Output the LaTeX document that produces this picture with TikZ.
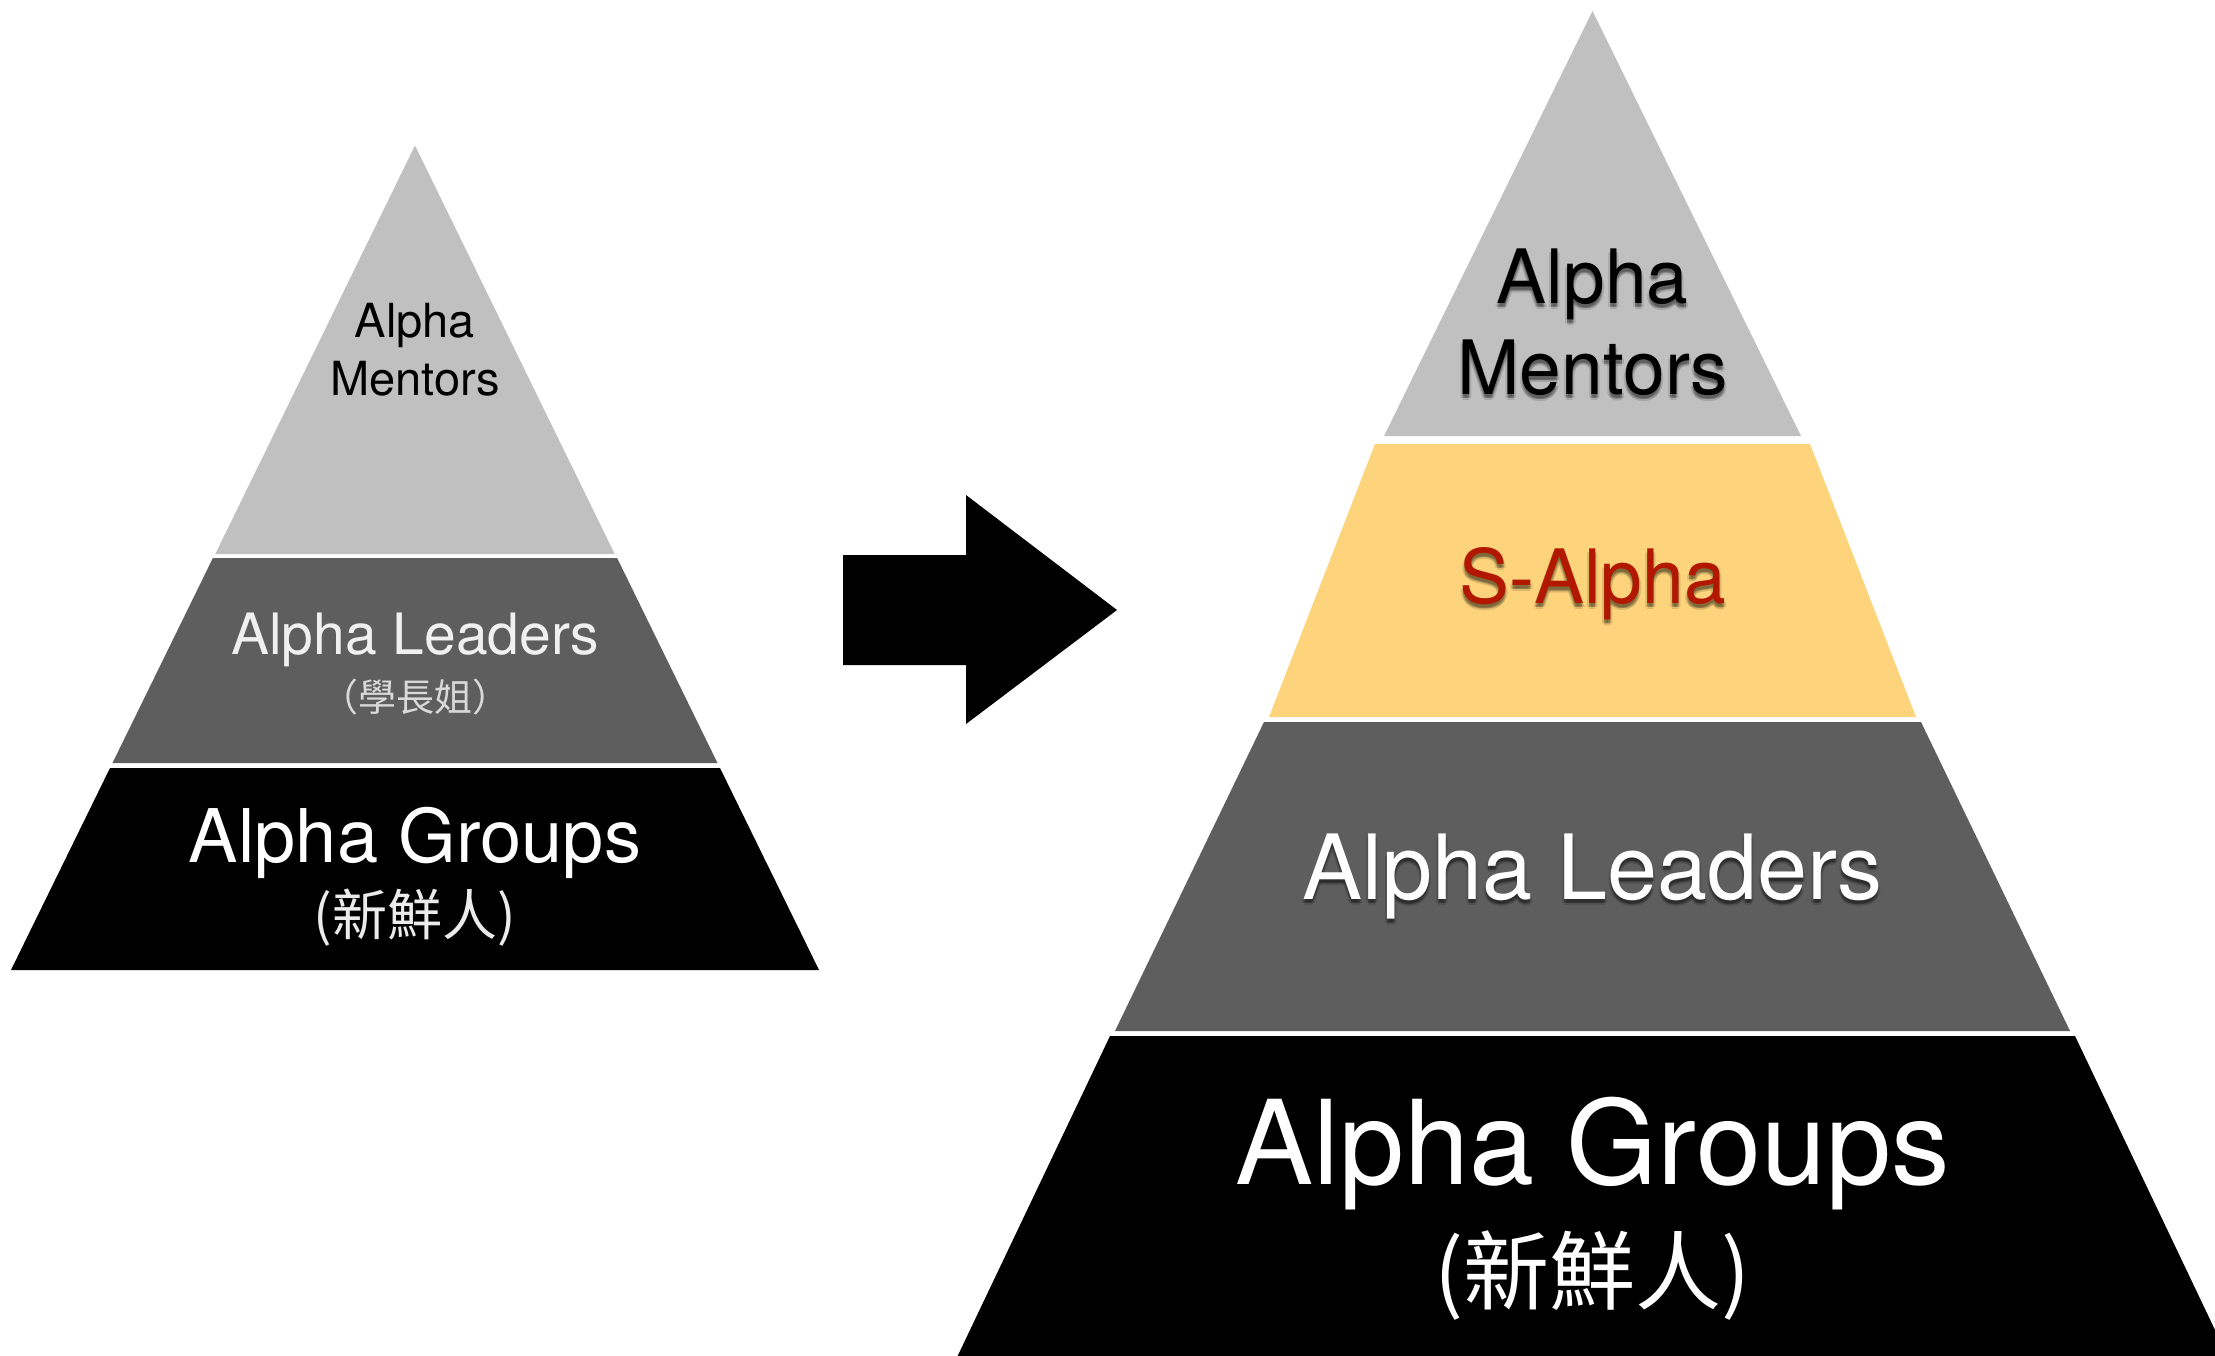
\documentclass[tikz,border=0pt]{standalone}
\usepackage{fontspec}
\setmainfont{TeX Gyre Heros}
\newfontfamily\cjk{Noto Sans CJK TC}
\definecolor{lgray}{HTML}{C0C0C0}
\definecolor{dgray}{HTML}{5E5E5E}
\definecolor{sand}{HTML}{FDD47B}
\definecolor{sred}{HTML}{B21800}
\tikzset{
  lbl/.style={anchor=base, inner sep=0pt, align=center},
}
\newcommand{\softshadow}[4]{% #1 name prefix, #2 position, #3 font, #4 text
  \foreach \dx/\dy [count=\k] in {0/-3,0/-6,-2/-4.5,2/-4.5,0/-4.5}{%
    \node[lbl, text=black, text opacity=0.13, font=#3, xshift=\dx pt, yshift=\dy pt] (#1\k) at (#2) {#4};}}
\begin{document}
\begin{tikzpicture}[x=1pt,y=-1pt]
\clip (0,0) rectangle (2215,1356);
\fill[white] (0,0) rectangle (2215,1356);

% ---------- left pyramid ----------
\fill[lgray] (415,145.5) -- (614.7,554) -- (215.3,554) -- cycle;
\fill[dgray] (212.9,558) -- (617.1,558) -- (717.5,763) -- (112.5,763) -- cycle;
\fill[black] (110,768) -- (720,768) -- (819,970) -- (11,970) -- cycle;

\node[lbl, font=\fontsize{47}{56}\selectfont, text=black] (lm1) at (415,337) {Alpha};
\node[lbl, font=\fontsize{47}{56}\selectfont, text=black] (lm2) at (415,395) {Mentors};
\node[lbl, font=\fontsize{57}{66}\selectfont, text=white!94!black] (ll1) at (415,654) {Alpha Leaders};
\node[lbl, font=\cjk\fontsize{38}{44}\selectfont, text=white!85!black] (ll2) at (415,711) {（學長姐）};
\node[lbl, font=\fontsize{74}{86}\selectfont, text=white] (lg1) at (415,862) {Alpha Groups};
\node[lbl, font=\cjk\fontsize{55}{64}\selectfont, text=white!92!black] (lg2) at (415,935) {(新鮮人)};

% ---------- arrow ----------
\fill[black] (843,555) -- (966,555) -- (966,495) -- (1117,610) -- (966,724) -- (966,665) -- (843,665) -- cycle;

% ---------- right pyramid ----------
\fill[lgray] (1592.5,11) -- (1801,436) -- (1384,436) -- cycle;
\fill[sand] (1375,444) -- (1810,444) -- (1916,717) -- (1269,717) -- cycle;
\fill[dgray] (1264,722) -- (1921,722) -- (2070,1031) -- (1115,1031) -- cycle;
\fill[black] (1110,1036) -- (2075,1036) -- (2235,1372) -- (950,1372) -- cycle;

\coordinate (rm1p) at (1592.5,303);
\coordinate (rm2p) at (1592.5,394);
\coordinate (rsp) at (1592.5,603);
\coordinate (rlp) at (1592.5,899);
\softshadow{rm1s}{rm1p}{\fontsize{75}{88}\selectfont}{Alpha}
\softshadow{rm2s}{rm2p}{\fontsize{75}{88}\selectfont}{Mentors}
\softshadow{rss}{rsp}{\fontsize{75}{88}\selectfont}{S-Alpha}
\softshadow{rls}{rlp}{\fontsize{90}{104}\selectfont}{Alpha Leaders}
\node[lbl, font=\fontsize{75}{88}\selectfont, text=black] (rm1) at (rm1p) {Alpha};
\node[lbl, font=\fontsize{75}{88}\selectfont, text=black] (rm2) at (rm2p) {Mentors};
\node[lbl, font=\fontsize{75}{88}\selectfont, text=sred] (rs) at (rsp) {S-Alpha};
\node[lbl, font=\fontsize{90}{104}\selectfont, text=white] (rl) at (rlp) {Alpha Leaders};
\node[lbl, font=\fontsize{117}{134}\selectfont, text=white] (rg1) at (1592.5,1184) {Alpha Groups};
\node[lbl, font=\cjk\fontsize{86}{100}\selectfont, text=white] (rg2) at (1592.5,1303) {(新鮮人)};
\end{tikzpicture}
\end{document}
